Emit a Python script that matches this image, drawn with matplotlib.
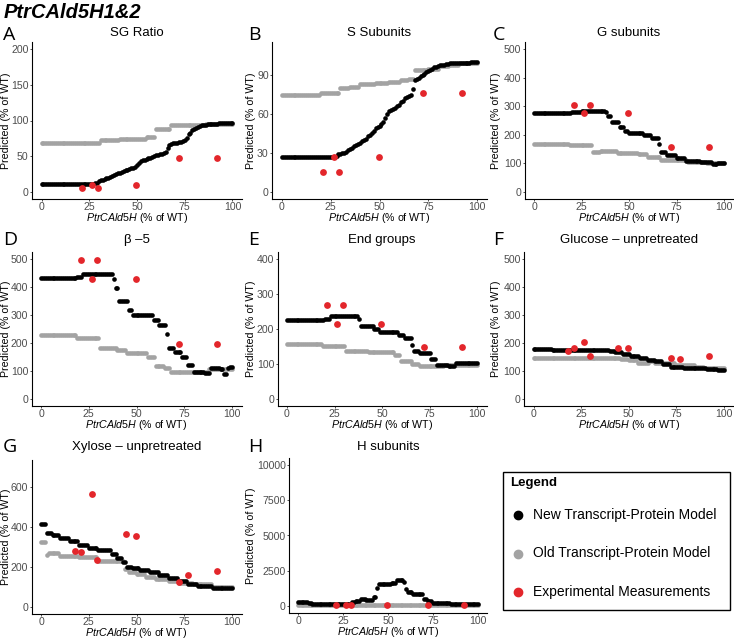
import numpy as np
import matplotlib
matplotlib.use("Agg")
import matplotlib.pyplot as plt
from matplotlib.patches import Rectangle
from matplotlib.lines import Line2D

plt.rcParams['font.family'] = ['Liberation Sans', 'DejaVu Sans']
plt.rcParams['mathtext.fontset'] = 'custom'
plt.rcParams['mathtext.it'] = 'Liberation Sans:italic'
plt.rcParams['mathtext.rm'] = 'Liberation Sans'

# ---------------- data ----------------
x_model = list(range(0, 101))          # PtrCAld5H (% of WT) for model points
exp_x6 = [21, 26.5, 29.5, 49.5, 72, 92]
exp_x9 = [18, 21, 26.5, 29.5, 44.5, 49.5, 72, 77, 92]

# A  SG Ratio
A_old = [68]*15 + [69]*16 + [73]*10 + [74]*14 + [77]*5 + [88]*8 + [93]*13 + [94]*5 + [95]*15
A_new = [11]*28 + [12, 13, 15, 16, 17, 18, 19, 20, 21, 22, 24, 25, 26, 27, 28, 29, 30, 31, 32, 33,
                   34, 35, 37, 40, 43, 44, 45, 46, 47, 48, 49, 50, 51, 52, 53, 53, 54, 56, 62, 66,
                   67, 68, 69, 69, 70, 70, 71, 72, 76, 81, 83, 86, 88, 90, 91, 92, 93, 94, 94, 95,
                   95, 95, 95, 95, 95, 96, 96, 96, 96, 96, 97, 97, 97]
A_exp = [5, 10, 5, 10, 48, 48]

# B  S Subunits
B_old = [75]*20 + [76]*10 + [80]*5 + [81]*5 + [83]*8 + [84]*7 + [85]*6 + [86]*4 + [87]*3 + [94]*7 + [95]*6 + [97]*5 + [98]*5 + [99]*10
B_new = [26.5]*26 + [27, 27, 28, 29, 29, 30, 30, 31, 32, 33, 34, 35, 36, 37, 38, 39, 40, 41, 43, 44,
                     45, 47, 49, 50, 51, 52, 54, 57, 60, 62, 63, 64, 65, 66, 67, 69, 70, 72, 73, 74,
                     75, 79, 86, 87, 88, 89, 90, 91, 92, 93, 94, 95, 96, 96.5, 97, 97.5, 98, 98, 98.5, 98.5,
                     99, 99, 99, 99, 99, 99, 99.5, 99.5, 99.5, 99.5, 99.5, 100, 100, 100, 100]
B_exp = [15, 27, 15, 27, 76, 76]

# C  G subunits
C_old = [168]*19 + [163]*12 + [140]*4 + [144]*9 + [137]*11 + [133]*5 + [121]*7 + [110]*14 + [105]*10 + [102]*10
C_new = [278]*20 + [281]*5 + [284]*13 + [280] + [265]*2 + [245]*4 + [228]*3 + [212]*2 + [207]*8 + [200]*4 + \
        [190]*4 + [168] + [140]*3 + [130]*5 + [120]*5 + [107]*8 + [105]*6 + [98]*3 + [101]*4
C_exp = [305, 278, 305, 278, 158, 158]

# D  beta-5
D_old = [228]*19 + [218]*12 + [182]*9 + [176]*5 + [165]*11 + [150]*4 + [118]*5 + [112]*3 + [97]*12 + [97]*8 + [108]*13
D_new = [432]*19 + [436]*3 + [445]*16 + [430] + [395]*2 + [350]*5 + [318]*2 + [300]*11 + [283]*3 + [265]*4 + \
        [232] + [182]*3 + [168]*4 + [150]*3 + [120]*3 + [97]*6 + [92]*3 + [110]*5 + [108]*2 + [90]*2 + [110] + [116]*2
D_exp = [495, 430, 495, 430, 198, 198]

# E  End groups
E_old = [158]*19 + [152]*12 + [137]*12 + [133]*14 + [127]*3 + [110]*6 + [100]*4 + [95]*13 + [98]*18
E_new = [225]*20 + [230]*3 + [237]*15 + [228] + [210]*7 + [200]*3 + [192]*10 + [184]*3 + [175]*4 + [155] + \
        [138]*3 + [131]*6 + [114]*3 + [97]*6 + [93]*4 + [102]*6 + [104]*5 + [102]
E_exp = [268, 215, 268, 215, 150, 150]

# F  Glucose - unpretreated
F_old = [145]*15 + [148]*31 + [142]*4 + [138]*5 + [130]*6 + [135]*3 + [130]*7 + [127]*4 + [123]*5 + [120]*5 + [115]*5 + [110]*11
F_new = [180]*10 + [176]*30 + [172]*3 + [167]*4 + [160]*4 + [153]*5 + [146]*4 + [140]*4 + [134]*4 + [125]*4 + \
        [114]*7 + [110]*12 + [108]*6 + [103]*4
F_exp = [170, 182, 202, 152, 182, 183, 146, 143, 152]

# G  Xylose - unpretreated
G_old = [325]*3 + [258] + [268]*6 + [255]*10 + [250]*10 + [230]*14 + [188]*2 + [175]*4 + [165]*5 + [148]*5 + \
        [138]*7 + [128]*5 + [118]*8 + [112]*10 + [97]*11
G_new = [415]*3 + [368]*3 + [360]*4 + [345]*5 + [330]*5 + [310]*5 + [295]*5 + [282]*7 + [262]*3 + [242]*3 + \
        [225]*2 + [200]*3 + [192]*4 + [183]*5 + [173]*5 + [160]*5 + [145]*5 + [130]*5 + [115]*5 + [102]*8 + [95]*11
G_exp = [278, 275, 565, 233, 363, 352, 125, 158, 178]

# H  H subunits
H_old = [100]*101
H_new = [280]*6 + [220]*2 + [150]*22 + [250]*2 + [350]*3 + [500]*3 + [400]*4 + [600]*2 + [1300] + [1550]*7 + \
        [1650]*3 + [1850]*4 + [1700] + [1200] + [960]*3 + [880]*6 + [470]*2 + [320]*3 + [240]*10 + [150]*16
H_exp = [80, 80, 80, 80, 80, 80]

letters = ["A", "B", "C", "D", "E", "F", "G", "H"]
titles = ["SG Ratio", "S Subunits", "G subunits", "β –5", "End groups",
          "Glucose – unpretreated", "Xylose – unpretreated", "H subunits"]
olds = [A_old, B_old, C_old, D_old, E_old, F_old, G_old, H_old]
news = [A_new, B_new, C_new, D_new, E_new, F_new, G_new, H_new]
exps_x = [exp_x6, exp_x6, exp_x6, exp_x6, exp_x6, exp_x9, exp_x9, exp_x6]
exps_y = [A_exp, B_exp, C_exp, D_exp, E_exp, F_exp, G_exp, H_exp]
ylims = [(-10, 210), (-5.5, 115.5), (-25, 525), (-25, 525), (-20, 420), (-25, 525), (-35, 735), (-500, 10500)]
yticks = [[0, 50, 100, 150, 200], [0, 30, 60, 90], [0, 100, 200, 300, 400, 500],
          [0, 100, 200, 300, 400, 500], [0, 100, 200, 300, 400], [0, 100, 200, 300, 400, 500],
          [0, 200, 400, 600], [0, 2500, 5000, 7500, 10000]]
xticks = [0, 25, 50, 75, 100]

for o, n in zip(olds, news):
    assert len(o) == 101 and len(n) == 101, (len(o), len(n))

# ---------------- layout (pixels) ----------------
W, H = 734, 638
boxes = [(32, 42, 242, 199), (272, 42, 487, 199), (524.5, 42, 733.5, 199),
         (31.5, 252, 241.5, 406), (277.5, 252, 486.5, 406), (524, 252, 733.5, 406),
         (31.5, 460, 241.5, 613.5), (289, 458, 487, 613)]
col_left = [0, 245, 490]
row_letter_base = [40, 245, 452]
row_title_base = [36, 243, 450]

BLACK = "#000000"
GREY = "#A3A3A3"
RED = "#E3262B"

fig = plt.figure(figsize=(W / 100, H / 100), dpi=100)

def fx(px):
    return px / W

def fy(py):
    return 1 - py / H

fig.text(fx(4), fy(18), "PtrCAld5H1&2", fontsize=14.5, fontweight="bold", fontstyle="italic",
         ha="left", va="baseline")

for i in range(8):
    x0, y0, x1, y1 = boxes[i]
    r, c = divmod(i, 3)
    ax = fig.add_axes([fx(x0), fy(y1), (x1 - x0) / W, (y1 - y0) / H])
    ax.scatter(x_model, olds[i], s=11, color=GREY, linewidths=0, zorder=2)
    ax.scatter(x_model, news[i], s=11, color=BLACK, linewidths=0, zorder=3)
    ax.scatter(exps_x[i], exps_y[i], s=24, color=RED, linewidths=0, zorder=4)
    ax.set_xlim(-5, 105)
    ax.set_ylim(*ylims[i])
    ax.set_xticks(xticks)
    ax.set_yticks(yticks[i])
    for s in ["top", "right"]:
        ax.spines[s].set_visible(False)
    for s in ["left", "bottom"]:
        ax.spines[s].set_linewidth(0.8)
    ax.tick_params(axis="both", length=1.6, width=0.6, pad=0.8, labelsize=7.6,
                   labelcolor="#4D4D4D", color="#333333")
    cx = (x0 + x1) / 2
    fig.text(fx(cx), fy(row_title_base[r]), titles[i], fontsize=9.5, ha="center", va="baseline")
    fig.text(fx(col_left[c] + 3), fy(row_letter_base[r]), letters[i], fontsize=14,
             family=["Open Sans", "DejaVu Sans"], ha="left", va="baseline")
    fig.text(fx(cx), fy(y1 + 19), r"$\it{PtrCAld5H}$ (% of WT)", fontsize=7.7, ha="center", va="center")
    fig.text(fx(col_left[c] + 6), fy((y0 + y1) / 2), "Predicted (% of WT)", fontsize=7.7,
             rotation=90, ha="center", va="center")

# ---------------- legend ----------------
lax = fig.add_axes([0, 0, 1, 1])
lax.set_xlim(0, W)
lax.set_ylim(H, 0)
lax.axis("off")
lax.add_patch(Rectangle((503, 472), 227, 138, fill=False, edgecolor="black", linewidth=1))
lax.text(510, 483, "Legend", fontsize=9.5, fontweight="bold", ha="left", va="center")
leg_labels = ["New Transcript-Protein Model", "Old Transcript-Protein Model", "Experimental Measurements"]
leg_colors = [BLACK, GREY, RED]
for k, (lab, col) in enumerate(zip(leg_labels, leg_colors)):
    yy = 515 + k * 38.5
    lax.add_line(Line2D([518], [yy], marker="o", markersize=6, color=col, linestyle="none"))
    lax.text(533, yy, lab, fontsize=10, ha="left", va="center")

fig.savefig("out.png", dpi=100)
